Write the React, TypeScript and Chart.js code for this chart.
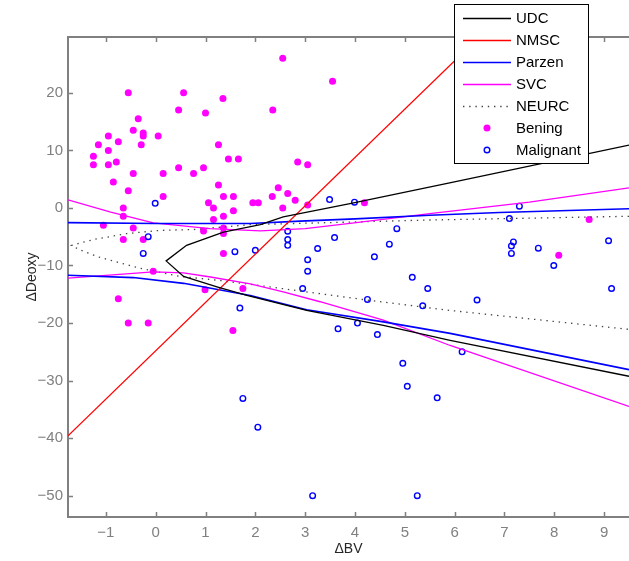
import React, { useEffect, useRef } from 'react';
import { Chart, registerables } from 'chart.js';

Chart.register(...registerables);

// ---- Axis ticks ----
const xTicks = [-1, 0, 1, 2, 3, 4, 5, 6, 7, 8, 9];
const yTicks = [-50, -40, -30, -20, -10, 0, 10, 20];
const xRange = [-1.76, 9.5];
const yRange = [-53.7, 29.7];

// ---- Scatter data ----
const beningPoints: [number, number][] = [
  [-0.55, 20], [0.56, 20], [1.35, 19], [0.46, 17], [1.0, 16.5], [2.55, 26], [2.35, 17], [3.55, 22],
  [-0.35, 15.5], [-0.45, 13.5], [-0.25, 13], [-0.25, 12.5], [0.05, 12.5], [-0.95, 12.5], [-0.75, 11.5],
  [-1.15, 11], [-0.29, 11], [1.26, 11], [-0.95, 10], [-1.25, 9], [-1.25, 7.5], [-0.95, 7.5], [-0.79, 8],
  [-0.45, 6], [0.15, 6], [0.46, 7], [0.76, 6], [0.96, 7], [1.46, 8.5], [1.66, 8.5], [-0.85, 4.5],
  [1.26, 4], [-0.55, 3], [0.15, 2], [1.36, 2], [1.56, 2], [1.06, 0.9], [1.16, 0], [1.56, -0.5],
  [1.36, -1.45], [1.16, -2], [1.95, 0.9], [2.06, 0.9], [2.46, 3.5], [2.34, 2], [2.65, 2.5], [2.8, 1.35],
  [2.55, 0], [3.05, 0.5], [2.85, 8], [3.05, 7.5], [4.19, 0.9], [-0.65, 0], [-0.65, -1.45], [-1.05, -3],
  [-0.45, -3.5], [-0.65, -5.5], [-0.25, -5.5], [0.96, -4], [1.36, -3.5], [1.36, -4.45], [1.36, -7.9],
  [-0.05, -11], [0.99, -14.2], [1.75, -14], [-0.75, -15.8], [-0.55, -20], [-0.15, -20], [1.55, -21.3],
  [8.7, -2], [8.09, -8.2],
];

const malignantPoints: [number, number][] = [
  [-0.01, 0.8], [-0.15, -5.0], [-0.25, -7.9], [1.59, -7.6], [2.0, -7.35], [2.65, -4.05], [2.65, -5.5],
  [2.65, -6.5], [3.25, -7.05], [3.05, -9.0], [3.05, -11.0], [3.49, 1.45], [3.99, 1.0], [4.84, -3.6],
  [3.59, -5.15], [4.69, -6.3], [4.39, -8.5], [5.15, -12.05], [2.95, -14.0], [5.46, -14.0], [4.25, -15.9],
  [6.45, -16.0], [5.36, -17.0], [9.15, -14.0], [3.66, -21.0], [4.05, -20.0], [4.45, -22.0], [6.15, -25.0],
  [4.96, -27.0], [5.05, -31.0], [5.65, -33.0], [3.15, -50], [5.25, -50], [1.69, -17.4], [1.75, -33.1],
  [2.05, -38.1], [7.1, -1.85], [7.3, 0.3], [7.18, -5.9], [7.14, -6.6], [7.14, -7.9], [7.68, -7.0],
  [7.99, -10.0], [9.09, -5.7],
];

// ---- Classifier boundaries ----
const udcX = [9.5, 5.9, 3.9, 2.56, 2.1, 1.36, 0.62, 0.21, 0.56, 1.23, 1.83, 3.03, 4.57, 5.91, 9.5];
const udcY = [10.9, 4.35, 0.76, -1.56, -2.9, -4.2, -6.5, -9.2, -11.9, -13.7, -15.2, -17.8, -20.4, -23.0, -29.25];

const nmscX = [-1.76, 6.6];
const nmscY = [-39.6, 30.6];

const parzenUpperX = [-1.76, 0, 1.9, 2.9, 4, 5.5, 6.9, 9.5];
const parzenUpperY = [-2.55, -2.7, -2.7, -2.3, -1.9, -1.27, -0.8, -0.15];
const parzenLowerX = [-1.76, -0.45, 0.56, 1.9, 3.03, 4.57, 5.91, 9.5];
const parzenLowerY = [-11.7, -12.1, -13.1, -15.2, -17.7, -19.8, -21.8, -28.1];

const svcUpperX = [-1.76, -0.92, -0.05, 1.09, 2.1, 3.0, 3.9, 5.5, 7.5, 9.5];
const svcUpperY = [1.4, -0.7, -2.6, -3.6, -4.0, -3.6, -2.7, -1.0, 1.0, 3.5];
const svcLowerX = [-1.76, -1.0, -0.05, 0.56, 1.1, 1.9, 2.56, 3.3, 4.57, 5.91, 9.5];
const svcLowerY = [-12.2, -11.7, -11.1, -11.3, -12.0, -13.2, -14.6, -16.3, -19.5, -23.9, -34.5];

const neurcX = [9.5, 5.5, 1.9, 0.76, 0.09, -0.58, -1.25, -1.69, -1.52, -1.12, -0.31, 0.49, 1.29, 2.1, 4.24, 5.9, 9.5];
const neurcY = [-1.45, -2.1, -2.9, -3.75, -3.9, -4.45, -5.5, -6.5, -7.3, -8.6, -10.5, -11.9, -12.6, -13.5, -16.0, -17.8, -21.1];

const pts = (xs: number[], ys: number[]) => xs.map((x, i) => ({ x, y: ys[i] }));
const gap = { x: null as any, y: null as any };
const pairs = (p: [number, number][]) => p.map(([x, y]) => ({ x, y }));

const FONT = '"Liberation Sans", Arial, Helvetica, sans-serif';
const AXIS_GRAY = '#808080';
const minus = (v: any) => String(v).replace('-', '\u2212');

const framePlugin = {
  id: 'frame',
  afterDraw(chart: any) {
    const { ctx, chartArea } = chart;
    const xs = chart.scales.x;
    const ys = chart.scales.y;
    ctx.save();
    ctx.strokeStyle = AXIS_GRAY;
    ctx.lineWidth = 2;
    // top spine
    ctx.beginPath();
    ctx.moveTo(chartArea.left - 1, chartArea.top);
    ctx.lineTo(chartArea.right, chartArea.top);
    ctx.stroke();
    // inward ticks
    ctx.lineWidth = 1.5;
    ctx.beginPath();
    xTicks.forEach((v) => {
      const px = Math.round(xs.getPixelForValue(v)) + 0.5;
      ctx.moveTo(px, chartArea.bottom);
      ctx.lineTo(px, chartArea.bottom - 5);
      ctx.moveTo(px, chartArea.top);
      ctx.lineTo(px, chartArea.top + 5);
    });
    yTicks.forEach((v) => {
      const py = Math.round(ys.getPixelForValue(v)) + 0.5;
      ctx.moveTo(chartArea.left, py);
      ctx.lineTo(chartArea.left + 5, py);
    });
    ctx.stroke();

    // legend
    const lx = 454, ly = 4, lw = 134, lh = 159;
    ctx.fillStyle = '#ffffff';
    ctx.fillRect(lx, ly, lw, lh);
    ctx.strokeStyle = '#000000';
    ctx.lineWidth = 1;
    ctx.setLineDash([]);
    ctx.strokeRect(lx + 0.5, ly + 0.5, lw, lh);
    ctx.font = `15px ${FONT}`;
    ctx.textBaseline = 'middle';
    ctx.textAlign = 'left';
    chart.data.datasets.forEach((ds: any, i: number) => {
      const y = 18 + 22 * i;
      if (ds.showLine) {
        ctx.save();
        ctx.strokeStyle = ds.borderColor;
        ctx.lineWidth = ds.borderWidth;
        ctx.setLineDash(ds.borderDash || []);
        ctx.beginPath();
        ctx.moveTo(463, y + 0.5);
        ctx.lineTo(511, y + 0.5);
        ctx.stroke();
        ctx.restore();
      } else {
        ctx.save();
        ctx.beginPath();
        ctx.arc(487, y, ds.pointRadius, 0, Math.PI * 2);
        if (ds.pointBorderWidth > 0) {
          ctx.strokeStyle = ds.pointBorderColor;
          ctx.lineWidth = ds.pointBorderWidth;
          ctx.stroke();
        } else {
          ctx.fillStyle = ds.pointBackgroundColor;
          ctx.fill();
        }
        ctx.restore();
      }
      ctx.fillStyle = '#000000';
      ctx.fillText(ds.label, 516, y + 1);
    });
    ctx.restore();
  },
};

export default function App() {
  const canvasRef = useRef<HTMLCanvasElement | null>(null);

  useEffect(() => {
    if (!canvasRef.current) return;
    const lineBase = { showLine: true, pointRadius: 0, fill: false, tension: 0, spanGaps: false };
    const chart = new Chart(canvasRef.current, {
      type: 'scatter',
      data: {
        datasets: [
          { ...lineBase, label: 'UDC', data: pts(udcX, udcY), borderColor: '#000000', borderWidth: 1.3, order: 1 },
          { ...lineBase, label: 'NMSC', data: pts(nmscX, nmscY), borderColor: '#ff0000', borderWidth: 1.3, order: 2 },
          {
            ...lineBase, label: 'Parzen',
            data: [...pts(parzenUpperX, parzenUpperY), gap, ...pts(parzenLowerX, parzenLowerY)],
            borderColor: '#0000ff', borderWidth: 1.6, order: 3,
          },
          {
            ...lineBase, label: 'SVC',
            data: [...pts(svcUpperX, svcUpperY), gap, ...pts(svcLowerX, svcLowerY)],
            borderColor: '#ff00ff', borderWidth: 1.3, order: 4,
          },
          {
            ...lineBase, label: 'NEURC', data: pts(neurcX, neurcY),
            borderColor: '#444444', borderWidth: 1.3, borderDash: [1.4, 4.8], order: 5,
          },
          {
            label: 'Bening', data: pairs(beningPoints), showLine: false,
            pointRadius: 3.5, pointBorderWidth: 0, pointBackgroundColor: '#ff00ff',
            pointBorderColor: '#ff00ff', backgroundColor: '#ff00ff', borderColor: '#ff00ff', order: 10,
          },
          {
            label: 'Malignant', data: pairs(malignantPoints), showLine: false,
            pointRadius: 2.8, pointBorderWidth: 1.4, pointBackgroundColor: 'rgba(0,0,0,0)',
            pointBorderColor: '#0000ff', backgroundColor: 'rgba(0,0,0,0)', borderColor: '#0000ff', order: 9,
          },
        ] as any,
      },
      options: {
        responsive: false,
        animation: false,
        events: [],
        layout: { autoPadding: false, padding: { top: 37, right: 0, bottom: 0, left: 0 } },
        plugins: { legend: { display: false }, tooltip: { enabled: false } },
        scales: {
          x: {
            type: 'linear',
            position: 'bottom',
            min: xRange[0],
            max: xRange[1],
            grid: { display: false, drawTicks: false },
            border: { display: true, color: AXIS_GRAY, width: 2 },
            ticks: {
              color: AXIS_GRAY, padding: 7, maxRotation: 0, autoSkip: false,
              font: { family: FONT, size: 15 }, callback: minus,
            },
            afterBuildTicks: (s: any) => { s.ticks = xTicks.map((v) => ({ value: v })); },
            afterFit: (s: any) => { s.height = 44; s.paddingLeft = 0; s.paddingRight = 0; },
            title: {
              display: true, text: '\u0394BV', color: '#262626',
              font: { family: FONT, size: 14 }, padding: { top: 0, bottom: 3 },
            },
          },
          y: {
            type: 'linear',
            position: 'left',
            min: yRange[0],
            max: yRange[1],
            grid: { display: false, drawTicks: false },
            border: { display: true, color: AXIS_GRAY, width: 2 },
            ticks: {
              color: AXIS_GRAY, padding: 5, autoSkip: false,
              font: { family: FONT, size: 15 }, callback: minus,
            },
            afterBuildTicks: (s: any) => { s.ticks = yTicks.map((v) => ({ value: v })); },
            afterFit: (s: any) => { s.width = 68; s.paddingTop = 0; s.paddingBottom = 0; },
            title: {
              display: true, text: '\u0394Deoxy', color: '#262626',
              font: { family: FONT, size: 14 }, padding: { top: 24, bottom: 0 },
            },
          },
        },
      } as any,
      plugins: [framePlugin],
    });
    return () => chart.destroy();
  }, []);

  return (
    <div style={{ position: 'fixed', left: 0, top: 0, width: 629, height: 561, background: '#ffffff' }}>
      <canvas ref={canvasRef} width={629} height={561} style={{ display: 'block' }} />
    </div>
  );
}
